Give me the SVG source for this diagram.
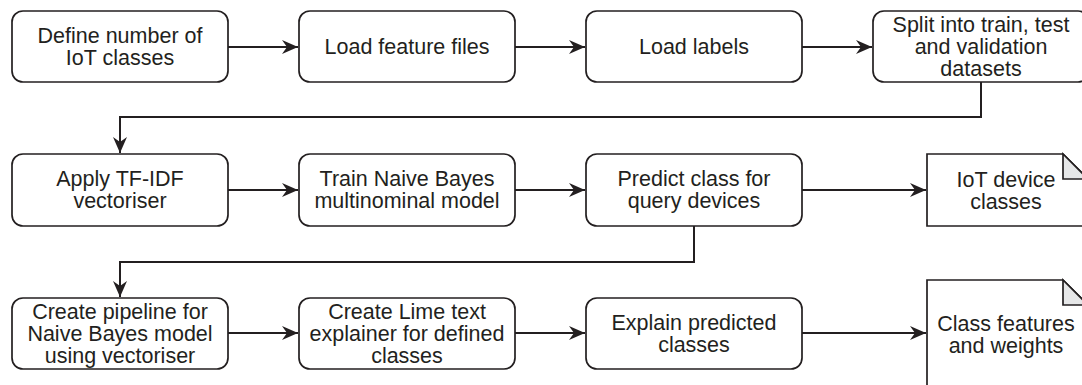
<svg xmlns="http://www.w3.org/2000/svg" width="1082" height="385" viewBox="0 0 1082 385">
<style>
.box{fill:#fff;stroke:#231f20;stroke-width:1.7}
.doc{fill:#fff;stroke:#231f20;stroke-width:1.7}
.fold{fill:#e6e7e8;stroke:#231f20;stroke-width:1.7}
.t{font-family:"Liberation Sans",Arial,Helvetica,sans-serif;font-size:21.5px;fill:#231f20;text-anchor:middle}
.c{fill:none;stroke:#231f20;stroke-width:2}
</style>
<defs>
<marker id="ah" markerUnits="userSpaceOnUse" markerWidth="17" markerHeight="14" refX="16" refY="7" orient="auto">
<path d="M0,0 L16,7 L0,14 L5,7 Z" fill="#231f20"/>
</marker>
</defs>
<g id="connectors">
<path class="c" d="M228,47 H298" marker-end="url(#ah)"/>
<path class="c" d="M515,47 H585" marker-end="url(#ah)"/>
<path class="c" d="M802,47 H872" marker-end="url(#ah)"/>
<path class="c" d="M981,82 V117 H120 V153" marker-end="url(#ah)"/>
<path class="c" d="M228,190 H298" marker-end="url(#ah)"/>
<path class="c" d="M515,190 H585" marker-end="url(#ah)"/>
<path class="c" d="M802,190 H926" marker-end="url(#ah)"/>
<path class="c" d="M694,226 V262 H120 V297" marker-end="url(#ah)"/>
<path class="c" d="M228,333 H298" marker-end="url(#ah)"/>
<path class="c" d="M515,333 H585" marker-end="url(#ah)"/>
<path class="c" d="M802,333 H926" marker-end="url(#ah)"/>
</g>
<g id="n1"><rect class="box" x="12" y="11" width="216" height="71" rx="11"/>
<text class="t" x="120" y="43">Define number of</text><text class="t" x="120" y="65">IoT classes</text></g>
<g id="n2"><rect class="box" x="299" y="11" width="216" height="71" rx="11"/>
<text class="t" x="407" y="54">Load feature files</text></g>
<g id="n3"><rect class="box" x="586" y="11" width="216" height="71" rx="11"/>
<text class="t" x="694" y="54">Load labels</text></g>
<g id="n4"><rect class="box" x="873" y="11" width="216" height="71" rx="11"/>
<text class="t" x="981" y="32">Split into train, test</text><text class="t" x="981" y="54">and validation</text><text class="t" x="981" y="76">datasets</text></g>
<g id="n5"><rect class="box" x="12" y="154" width="216" height="72" rx="11"/>
<text class="t" x="120" y="186">Apply TF-IDF</text><text class="t" x="120" y="208">vectoriser</text></g>
<g id="n6"><rect class="box" x="299" y="154" width="216" height="72" rx="11"/>
<text class="t" x="407" y="186">Train Naive Bayes</text><text class="t" x="407" y="208">multinominal model</text></g>
<g id="n7"><rect class="box" x="586" y="154" width="216" height="72" rx="11"/>
<text class="t" x="694" y="186">Predict class for</text><text class="t" x="694" y="208">query devices</text></g>
<g id="n8"><path class="doc" d="M927,154 H1063 L1088,179 V226 H927 Z"/><path class="fold" d="M1063,154 V179 H1088 Z"/>
<text class="t" x="1006" y="187">IoT device</text><text class="t" x="1006" y="209">classes</text></g>
<g id="n9"><rect class="box" x="12" y="298" width="216" height="71" rx="11"/>
<text class="t" x="120" y="319">Create pipeline for</text><text class="t" x="120" y="341">Naive Bayes model</text><text class="t" x="120" y="363">using vectoriser</text></g>
<g id="n10"><rect class="box" x="299" y="298" width="216" height="71" rx="11"/>
<text class="t" x="407" y="319">Create Lime text</text><text class="t" x="407" y="341">explainer for defined</text><text class="t" x="407" y="363">classes</text></g>
<g id="n11"><rect class="box" x="586" y="298" width="216" height="71" rx="11"/>
<text class="t" x="694" y="330">Explain predicted</text><text class="t" x="694" y="352">classes</text></g>
<g id="n12"><path class="doc" d="M927,280 H1063 L1088,305 V395 H927 Z"/><path class="fold" d="M1063,280 V305 H1088 Z"/>
<text class="t" x="1006" y="331">Class features</text><text class="t" x="1006" y="353">and weights</text></g>
</svg>
